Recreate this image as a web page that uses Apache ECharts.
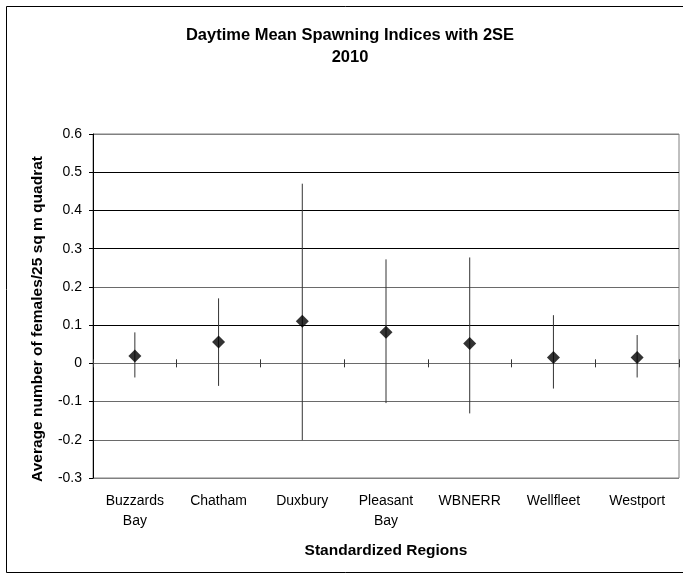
<!DOCTYPE html>
<html>
<head>
<meta charset="utf-8">
<title>Daytime Mean Spawning Indices with 2SE, 2010</title>
<script src="https://cdn.jsdelivr.net/npm/echarts@6/dist/echarts.min.js"></script>
<style>
  html, body { margin: 0; padding: 0; background: #fff; }
  #chart { width: 683px; height: 578px; }
</style>
</head>
<body>
<div id="chart"></div>
<script>
// Regions sampled, in axis order
var regions = ['Buzzards\nBay', 'Chatham', 'Duxbury', 'Pleasant\nBay', 'WBNERR', 'Wellfleet', 'Westport'];
// Mean daytime spawning index per region (females / 25 sq m quadrat)
var meanIndex = [0.019, 0.056, 0.110, 0.081, 0.052, 0.015, 0.015];
// Upper and lower ends of the 2SE bars
var upper2SE = [0.081, 0.170, 0.470, 0.272, 0.277, 0.126, 0.074];
var lower2SE = [-0.037, -0.059, -0.201, -0.104, -0.131, -0.066, -0.037];
// Value axis ticks
var yTicks = { min: -0.3, max: 0.6, step: 0.1 };

var FONT = '"Liberation Sans", Arial, Helvetica, sans-serif';

var errorData = regions.map(function (r, i) { return [i, lower2SE[i], upper2SE[i]]; });
var pointData = regions.map(function (r, i) { return [i, meanIndex[i]]; });

// Gridline shades, bottom (-0.3) to top (0.6); outer lines share the plot border grey
var gridShades = ['#808080', '#6a6a6a', '#6a6a6a', '#6a6a6a', '#000', '#6a6a6a', '#000', '#000', '#000', '#808080'];

var chart = echarts.init(document.getElementById('chart'), null, { renderer: 'canvas' });

chart.setOption({
  animation: false,
  backgroundColor: '#ffffff',
  grid: {
    left: 93, right: 4, top: 134, bottom: 100,
    show: true, borderColor: '#808080', borderWidth: 1, backgroundColor: 'transparent'
  },
  graphic: [
    { // outer chart frame
      type: 'rect', silent: true, z: -1,
      shape: { x: 6.5, y: 6.5, width: 720, height: 566 },
      style: { fill: 'none', stroke: '#000', lineWidth: 1 }
    },
    {
      type: 'text', x: 350, y: 46, silent: true,
      style: {
        text: 'Daytime Mean Spawning Indices with 2SE\n2010',
        font: 'bold 16.5px ' + FONT, fill: '#000',
        align: 'center', verticalAlign: 'middle', lineHeight: 22
      }
    },
    {
      type: 'text', x: 386, y: 551, silent: true,
      style: {
        text: 'Standardized Regions',
        font: 'bold 15.5px ' + FONT, fill: '#000',
        align: 'center', verticalAlign: 'middle'
      }
    },
    {
      type: 'text', x: 37.5, y: 319, rotation: Math.PI / 2, silent: true,
      style: {
        text: 'Average number of females/25 sq m quadrat',
        font: 'bold 15.5px ' + FONT, fill: '#000',
        align: 'center', verticalAlign: 'middle'
      }
    }
  ],
  xAxis: [
    { // category labels along the bottom of the plot
      type: 'category', data: regions, position: 'bottom',
      axisLine: { show: false, onZero: false },
      axisTick: { show: false },
      axisLabel: {
        show: true, interval: 0, margin: 13, color: '#000',
        fontFamily: FONT, fontSize: 14, lineHeight: 20
      },
      splitLine: { show: false }
    },
    { // zero line with downward ticks between categories
      type: 'category', data: regions, position: 'bottom',
      axisLine: { show: true, onZero: true, onZeroAxisIndex: 0, lineStyle: { color: '#6a6a6a', width: 1 } },
      axisTick: { show: true, length: 4, interval: 0, lineStyle: { color: '#333' } },
      axisLabel: { show: false },
      splitLine: { show: false }
    },
    { // upward half of the same ticks
      type: 'category', data: regions, position: 'top',
      axisLine: { show: false, onZero: true, onZeroAxisIndex: 0 },
      axisTick: { show: true, length: 4, interval: 0, lineStyle: { color: '#333' } },
      axisLabel: { show: false },
      splitLine: { show: false }
    }
  ],
  yAxis: {
    type: 'value', min: yTicks.min, max: yTicks.max, interval: yTicks.step,
    axisLine: { show: true, onZero: false, lineStyle: { color: '#000', width: 1 } },
    axisTick: { show: true, length: 4, lineStyle: { color: '#000' } },
    axisLabel: {
      color: '#000', fontFamily: FONT, fontSize: 14, margin: 11,
      formatter: function (v) { return String(Math.round(v * 10) / 10); }
    },
    splitLine: { show: true, lineStyle: { color: gridShades, width: 1 } }
  },
  series: [
    {
      name: '2SE',
      type: 'custom',
      xAxisIndex: 0, yAxisIndex: 0,
      data: errorData,
      encode: { x: 0, y: [1, 2] },
      z: 3,
      renderItem: function (params, api) {
        var lo = api.coord([api.value(0), api.value(1)]);
        var hi = api.coord([api.value(0), api.value(2)]);
        return {
          type: 'line',
          shape: { x1: lo[0], y1: lo[1], x2: hi[0], y2: hi[1] },
          style: { stroke: '#333', lineWidth: 1 }
        };
      }
    },
    {
      name: 'Mean',
      type: 'scatter',
      xAxisIndex: 0, yAxisIndex: 0,
      data: pointData,
      symbol: 'diamond',
      symbolSize: 13,
      itemStyle: { color: '#000' },
      z: 4
    }
  ]
});
</script>
</body>
</html>
